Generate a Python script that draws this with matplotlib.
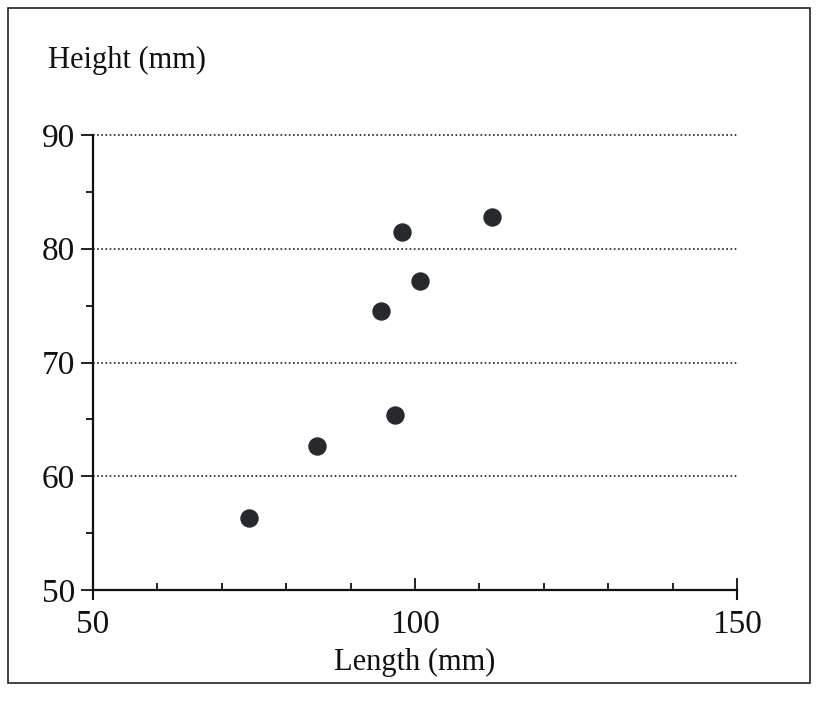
import matplotlib
matplotlib.use("Agg")
import matplotlib.pyplot as plt
from matplotlib.patches import Rectangle
from matplotlib.ticker import MultipleLocator

# shell length vs height
length_mm = [74.2, 84.8, 96.9, 94.7, 100.8, 98.0, 112.0]
height_mm = [56.3, 62.7, 65.4, 74.5, 77.2, 81.5, 82.8]

grid_levels = [60, 70, 80, 90]
x_ticks = [50, 100, 150]
y_ticks = [50, 60, 70, 80, 90]

plt.rcParams['font.family'] = ['Liberation Serif']

fig = plt.figure(figsize=(8.19, 7.08), dpi=100)
ax = fig.add_axes([93 / 819, 1 - 590 / 708, (737 - 93) / 819, (590 - 135) / 708])

# dotted guide lines
for g in grid_levels:
    ax.axhline(g, color='#222222', lw=1.2, ls=(0, (1, 1.5)), zorder=1, clip_on=False)

ax.scatter(length_mm, height_mm, s=150, color='#26292e', zorder=3)

ax.set_xlim(50, 150)
ax.set_ylim(50, 90)
ax.set_xticks(x_ticks)
ax.set_yticks(y_ticks)
ax.xaxis.set_minor_locator(MultipleLocator(10))
ax.yaxis.set_minor_locator(MultipleLocator(5))

for s in ['top', 'right']:
    ax.spines[s].set_visible(False)
for s in ['left', 'bottom']:
    ax.spines[s].set_linewidth(1.6)
    ax.spines[s].set_color('#111111')

ax.tick_params(axis='x', which='both', direction='in', colors='#111111', width=1.3,
               labelsize=24, pad=14)
ax.tick_params(axis='x', which='major', length=9)
ax.tick_params(axis='x', which='minor', length=5)
ax.tick_params(axis='y', which='both', direction='out', colors='#111111', width=1.3,
               labelsize=24, pad=4)
ax.tick_params(axis='y', which='major', length=9)
ax.tick_params(axis='y', which='minor', length=5)

# the scanned axes show short downward stubs at both ends of the x axis
for xe in [50, 150]:
    ax.axvline(xe, ymin=-0.02, ymax=0, color='#111111', lw=1.5, clip_on=False)

ax.set_xlabel('Length (mm)', fontsize=22, color='#111111', labelpad=6)
fig.text(48 / 819, 1 - 60 / 708, 'Height (mm)', fontsize=22, color='#111111',
         va='center', ha='left')

# frame around the whole figure, as on the scanned page
fig.patches.append(Rectangle((8 / 819, 1 - 683 / 708), (810 - 8) / 819, (683 - 8) / 708,
                             transform=fig.transFigure, fill=False,
                             edgecolor='#222222', lw=1.2))

fig.savefig('out.png', dpi=100)
